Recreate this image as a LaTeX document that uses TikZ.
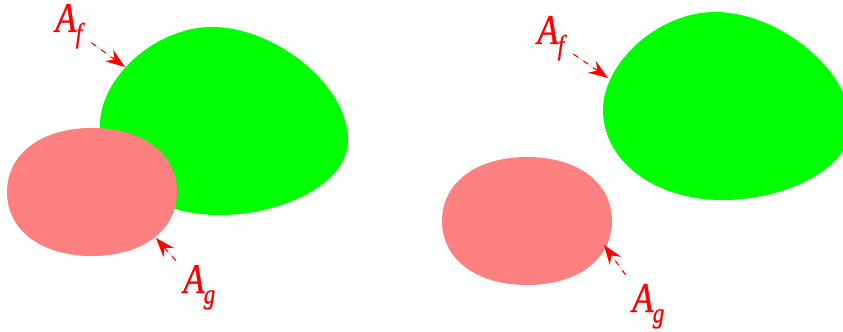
\documentclass[tikz,border=0pt]{standalone}
\usepackage{fontspec}
\usepackage{xcolor}
\usepackage{tikz}
\usetikzlibrary{arrows.meta, positioning, calc}
\newfontfamily\lblfont{Liberation Serif Italic}[FakeBold=1]
\definecolor{blobgreen}{RGB}{0, 255, 0}
\definecolor{blobpink}{RGB}{255, 128, 128}
\definecolor{labelred}{RGB}{255, 0, 0}
\newcommand{\arealbl}[1]{A\kern-0.5pt\raisebox{-2.1mm}{\fontsize{16}{18}\selectfont #1}}
\tikzstyle{lbl} = [anchor=base west, inner sep=0pt, text=labelred, xscale=0.82, font=\lblfont\fontsize{24}{28}\selectfont]
\tikzstyle{arrow} = [-{Stealth[length=3.9mm, width=2.8mm, inset=1.3mm]}, draw=labelred, fill=labelred, line width=0.6pt, dash pattern=on 1.1mm off 1.3mm, shorten <=2.2mm]

\begin{document}
\begin{tikzpicture}[x=0.2mm, y=-0.2mm]
    \clip (0,0) rectangle (843,331);

    % Green regions
    \fill[blobgreen] (212,27) .. controls (275,27) and (348,85) .. (348,140) .. controls (348,185) and (280,215) .. (220,215) .. controls (150,215) and (100,175) .. (100,125) .. controls (100,78) and (155,27) .. (212,27) -- cycle;
    \fill[blobgreen, shift={(503,-15)}] (212,27) .. controls (275,27) and (348,85) .. (348,140) .. controls (348,185) and (280,215) .. (220,215) .. controls (150,215) and (100,175) .. (100,125) .. controls (100,78) and (155,27) .. (212,27) -- cycle;

    % Pink regions
    \fill[blobpink, shift={(92,192)}] (85,0) .. controls (85,-38) and (51,-64) .. (0,-64) .. controls (-51,-64) and (-85,-38) .. (-85,0) .. controls (-85,38) and (-51,64) .. (0,64) .. controls (51,64) and (85,38) .. (85,0) -- cycle;
    \fill[blobpink, shift={(527,221)}] (85,0) .. controls (85,-38) and (51,-64) .. (0,-64) .. controls (-51,-64) and (-85,-38) .. (-85,0) .. controls (-85,38) and (-51,64) .. (0,64) .. controls (51,64) and (85,38) .. (85,0) -- cycle;

    % Labels
    \node[lbl] (afl) at (55,32) {\arealbl{f}};
    \node[lbl] (agl) at (183,293) {\arealbl{g}};
    \node[lbl] (afr) at (537,44) {\arealbl{f}};
    \node[lbl] (agr) at (632,312) {\arealbl{g}};

    % Arrow tips on the boundaries
    \coordinate (tafl) at (125,67);
    \coordinate (tagl) at (156,238);
    \coordinate (tafr) at (608,78);
    \coordinate (tagr) at (604,245);

    % Arrows
    \draw[arrow] (afl) -- (tafl);
    \draw[arrow] (agl) -- (tagl);
    \draw[arrow] (afr) -- (tafr);
    \draw[arrow] (agr) -- (tagr);
\end{tikzpicture}
\end{document}
